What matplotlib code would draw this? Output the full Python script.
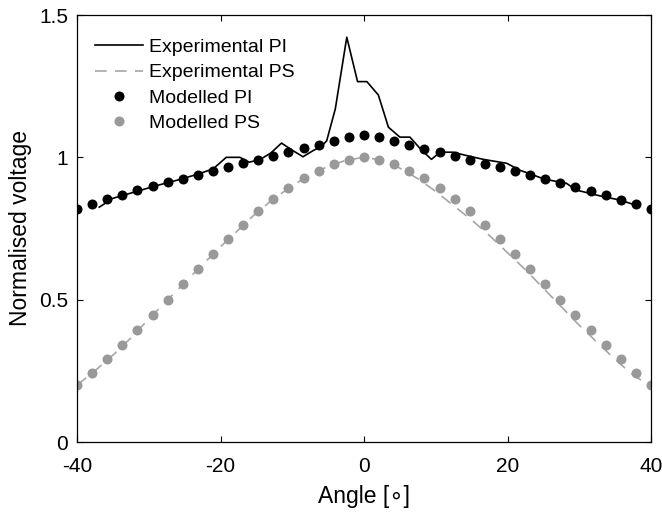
import matplotlib
matplotlib.use("Agg")
import matplotlib.pyplot as plt

# modelled curves (39 angles from -40 to 40)
angle_model = [-40.0, -37.89, -35.79, -33.68, -31.58, -29.47, -27.37, -25.26,
               -23.16, -21.05, -18.95, -16.84, -14.74, -12.63, -10.53, -8.42,
               -6.32, -4.21, -2.11, 0.0, 2.11, 4.21, 6.32, 8.42, 10.53, 12.63,
               14.74, 16.84, 18.95, 21.05, 23.16, 25.26, 27.37, 29.47, 31.58,
               33.68, 35.79, 37.89, 40.0]
model_pi = [0.818, 0.837, 0.853, 0.869, 0.884, 0.899, 0.912, 0.925, 0.939,
            0.952, 0.966, 0.979, 0.992, 1.004, 1.018, 1.032, 1.045, 1.056,
            1.073, 1.077, 1.073, 1.056, 1.044, 1.030, 1.017, 1.004, 0.991,
            0.978, 0.965, 0.952, 0.938, 0.924, 0.910, 0.896, 0.881, 0.866,
            0.851, 0.835, 0.818]
model_ps = [0.200, 0.243, 0.290, 0.340, 0.393, 0.446, 0.499, 0.554, 0.607,
            0.660, 0.713, 0.762, 0.811, 0.854, 0.892, 0.927, 0.953, 0.975,
            0.990, 1.000, 0.990, 0.975, 0.953, 0.927, 0.892, 0.854, 0.811,
            0.762, 0.713, 0.660, 0.607, 0.554, 0.499, 0.446, 0.393, 0.340,
            0.290, 0.243, 0.200]

# experimental curves
angle_exp_pi = [-36.9, -35, -32, -29, -26, -23, -21, -19.2, -17.3, -16,
                -14.5, -13, -11.5, -10, -8.5, -7, -6, -5.2, -4.0, -2.4, -0.9,
                0.4, 2.0, 3.4, 5.0, 6.4, 8.0, 9.4, 10.6, 12.4, 14.5, 16.6,
                19.9, 21.7, 25.2, 28.2, 29.6, 33.3, 35.7, 37.5]
exp_pi = [0.825, 0.856, 0.878, 0.900, 0.920, 0.942, 0.960, 1.000, 1.000,
          0.983, 0.992, 1.015, 1.050, 1.025, 1.002, 1.025, 1.037, 1.058,
          1.170, 1.422, 1.266, 1.266, 1.219, 1.106, 1.071, 1.071, 1.026,
          0.993, 1.018, 1.018, 1.005, 0.993, 0.979, 0.955, 0.923, 0.909,
          0.885, 0.862, 0.850, 0.835]

angle_exp_ps = [-40, -37.5, -35, -32.5, -30, -27.5, -25, -22.5, -20, -17.5,
                -15, -12.5, -10, -7.5, -5, -2.5, 0, 2.5, 5, 7.5, 10, 12.5,
                15, 17.5, 20, 22.5, 25, 27.5, 30, 32.5, 35, 37.5, 40]
exp_ps = [0.200, 0.250, 0.305, 0.365, 0.432, 0.496, 0.560, 0.623, 0.686,
          0.745, 0.805, 0.856, 0.900, 0.940, 0.968, 0.990, 1.000, 0.990,
          0.962, 0.925, 0.880, 0.830, 0.780, 0.725, 0.665, 0.605, 0.540,
          0.475, 0.410, 0.350, 0.290, 0.235, 0.195]

plt.rcParams["font.family"] = ["Liberation Sans", "DejaVu Sans"]
plt.rcParams["font.size"] = 14
plt.rcParams["axes.unicode_minus"] = False

fig = plt.figure(figsize=(6.62, 5.12), dpi=100)
ax = fig.add_axes([77 / 662, 1 - 442 / 512, 574 / 662, 427 / 512])

ax.plot(angle_exp_pi, exp_pi, color="black", lw=1.2, label="Experimental PI")
ax.plot(angle_exp_ps, exp_ps, color="#a6a6a6", lw=1.2, dashes=(7, 5),
        label="Experimental PS")
ax.plot(angle_model, model_pi, "o", color="black", ms=7.2, mec="none",
        label="Modelled PI")
ax.plot(angle_model, model_ps, "o", color="#999999", ms=7.2, mec="none",
        label="Modelled PS")

ax.set_xlim(-40, 40)
ax.set_ylim(0, 1.5)
ax.set_xticks([-40, -20, 0, 20, 40])
ax.set_yticks([0, 0.5, 1, 1.5])
ax.set_yticklabels(["0", "0.5", "1", "1.5"])
ax.tick_params(direction="in", top=True, right=True, length=4, width=0.8,
               labelsize=15)
ax.tick_params(axis="x", pad=11)
ax.tick_params(axis="y", pad=6.5)
for s in ax.spines.values():
    s.set_linewidth(0.9)
ax.set_xlabel("Angle [\u2218]", fontsize=16.5, labelpad=6)
ax.set_ylabel("Normalised voltage", fontsize=16.5, labelpad=5)

ax.legend(loc="upper left", bbox_to_anchor=(0.008, 0.977), frameon=False,
          fontsize=14, handlelength=2.45, handletextpad=0.3,
          labelspacing=0.4, borderaxespad=0.3, borderpad=0.4)

fig.savefig("out.png", dpi=100)
